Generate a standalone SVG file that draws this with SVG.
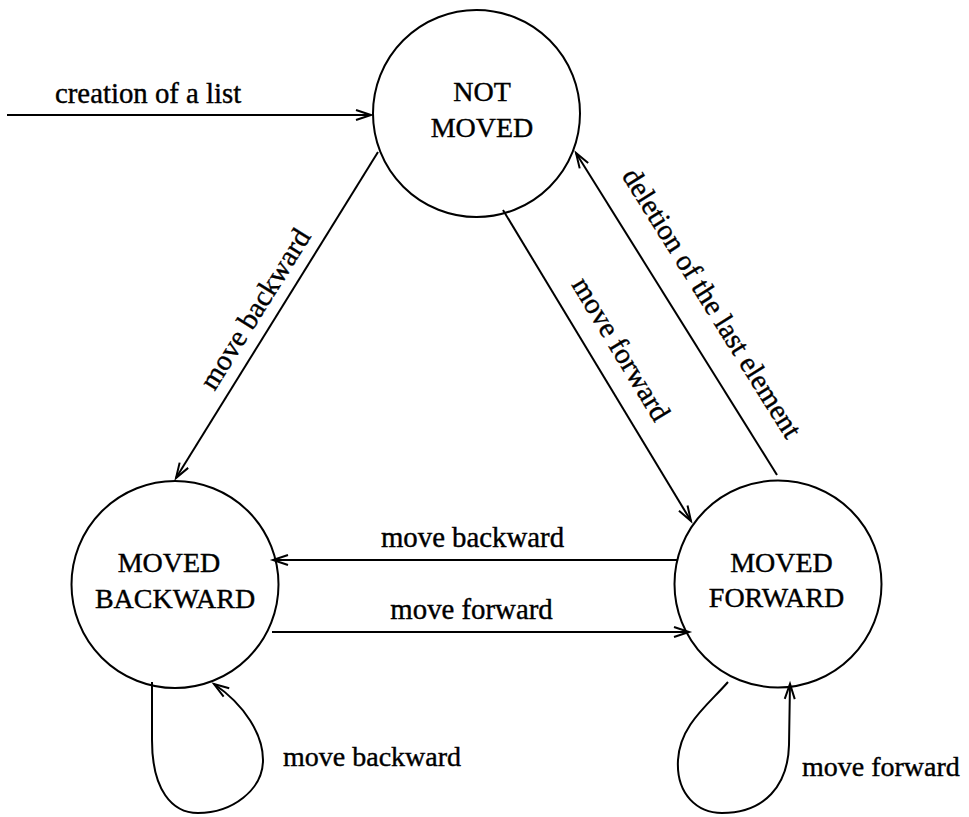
<svg xmlns="http://www.w3.org/2000/svg" width="969" height="817" viewBox="0 0 969 817">
  <style>
    .state { fill: #fff; stroke: #000; stroke-width: 2; }
    .lbl { font-family: "Liberation Serif", "Times New Roman", serif; font-size: 28px; fill: #000; stroke: #000; stroke-width: 0.4; }
    .elbl { font-size: 28.8px; }
    .edge { fill: none; stroke: #000; stroke-width: 2; marker-end: url(#arr); }
  </style>
  <defs>
    <marker id="arr" markerWidth="20" markerHeight="14" refX="16" refY="7" orient="auto" markerUnits="userSpaceOnUse">
      <path d="M1,2 L16,7 L1,12" fill="none" stroke="#000" stroke-width="2"/>
    </marker>
  </defs>
  <rect width="969" height="817" fill="#fff"/>

  <!-- states -->
  <g id="not-moved">
    <circle class="state" cx="476.5" cy="113.5" r="103.5"/>
    <text class="lbl" x="482" y="101" text-anchor="middle">NOT</text>
    <text class="lbl" x="482" y="136.5" text-anchor="middle">MOVED</text>
  </g>
  <g id="moved-backward">
    <circle class="state" cx="175" cy="584.5" r="103.5"/>
    <text class="lbl" x="169" y="572" text-anchor="middle">MOVED</text>
    <text class="lbl" x="175" y="608" text-anchor="middle">BACKWARD</text>
  </g>
  <g id="moved-forward">
    <circle class="state" cx="778" cy="584" r="103.5"/>
    <text class="lbl" x="781.5" y="572" text-anchor="middle">MOVED</text>
    <text class="lbl" x="776.5" y="607" text-anchor="middle">FORWARD</text>
  </g>

  <!-- transitions -->
  <g id="connectors">
    <path class="edge" d="M7,115 L371,115"/>
    <path class="edge" d="M378,152 L176,478"/>
    <path class="edge" d="M503,210 L691,521"/>
    <path class="edge" d="M777,475 L576,153"/>
    <path class="edge" d="M678,560 L273,560"/>
    <path class="edge" d="M272,632 L689,632"/>
    <path class="edge" d="M152,682 L152,740 C152,790 172,813 198,813 C232,813 263,790 263,760 C263,735 245,705 214,684"/>
    <path class="edge" d="M728,682 C708,705 680,725 678,760 C676,795 698,813 722,813 C765,813 788,785 789,745 L790,684"/>
  </g>

  <!-- transition labels -->
  <g id="labels">
    <text class="lbl elbl" x="55" y="103">creation of a list</text>
    <text class="lbl elbl" x="263" y="314" text-anchor="middle" transform="rotate(-58 263 314)">move backward</text>
    <text class="lbl elbl" x="613" y="354" text-anchor="middle" transform="rotate(58.8 613 354)">move forward</text>
    <text class="lbl elbl" x="704" y="308" text-anchor="middle" transform="rotate(58 704 308)">deletion of the last element</text>
    <text class="lbl elbl" x="472.5" y="547" text-anchor="middle">move backward</text>
    <text class="lbl elbl" x="471.5" y="619" text-anchor="middle">move forward</text>
    <text class="lbl" x="283" y="766">move backward</text>
    <text class="lbl" x="802" y="776">move forward</text>
  </g>
</svg>
